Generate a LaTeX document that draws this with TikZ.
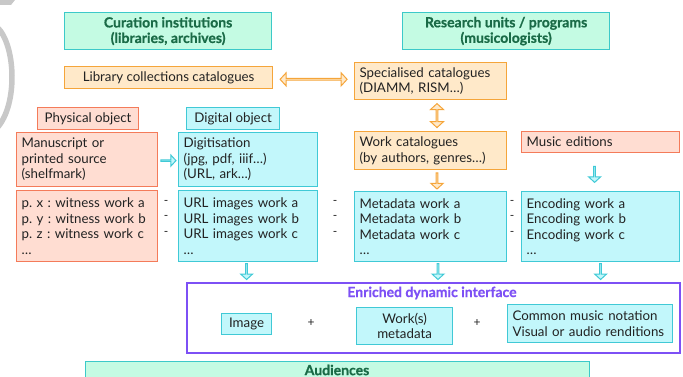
\documentclass[tikz,border=0pt]{standalone}
\usepackage{fontspec}
\setmainfont{Lato}
\newfontface\titleface{Lato Bold}[FakeBold=0.7]
\frenchspacing
\usetikzlibrary{shapes.arrows,calc}
\definecolor{mintF}{HTML}{C4FBE3}
\definecolor{tealB}{HTML}{3CC9C9}
\definecolor{titleG}{HTML}{1A6B47}
\definecolor{orF}{HTML}{FFE9C9}
\definecolor{orB}{HTML}{F5A53A}
\definecolor{pkF}{HTML}{FFDDD2}
\definecolor{pkB}{HTML}{F47B5A}
\definecolor{cyF}{HTML}{C2F7FB}
\definecolor{cyB}{HTML}{40C9D6}
\definecolor{purp}{HTML}{7D50F5}
\definecolor{txt}{HTML}{222222}
\definecolor{arcG}{HTML}{C8C8C8}
\tikzset{
  base/.style={draw, line width=1.2pt, inner sep=0pt, anchor=north west, text=txt,
    font=\fontsize{13.3}{15.5}\selectfont},
  titletxt/.style={font=\titleface\fontsize{14}{15.5}\selectfont},
  mintbox/.style={base, draw=tealB, fill=mintF, align=center, text=titleG, titletxt},
  orbox/.style={base, draw=orB, fill=orF},
  pkbox/.style={base, draw=pkB, fill=pkF},
  cybox/.style={base, draw=cyB, fill=cyF},
  lft/.style={align=left, inner xsep=5pt},
  ctr/.style={align=center},
  downarr/.style={single arrow, draw, line width=1pt, rotate=-90, minimum height=16pt,
    minimum width=12pt, single arrow head extend=3pt, inner sep=0pt, single arrow tip angle=95},
  rightarr/.style={single arrow, draw=cyB, fill=cyF, line width=1pt, minimum height=15pt,
    minimum width=11pt, single arrow head extend=3pt, inner sep=0pt, single arrow tip angle=95},
  dblarr/.style={double arrow, draw=orB, fill=orF, line width=1pt, minimum width=13pt,
    double arrow head extend=3.2pt, inner sep=0pt, double arrow tip angle=95},
  dashtxt/.style={text=txt, font=\fontsize{12}{15}\selectfont, inner sep=0pt},
}
\begin{document}
\begin{tikzpicture}[x=1pt,y=-1pt]
\useasboundingbox (0,0) rectangle (683,377);
% grey fragment at top left
\fill[arcG] (0,0) -- (15,0) -- (11,5) -- (0,5) -- cycle;
\draw[arcG, line width=5.5pt] (-3,27) .. controls (16,45) and (18,105) .. (-3,128);

\node[mintbox, minimum width=207, minimum height=37] (cur) at (64,12) {Curation institutions\\(libraries, archives)};
\node[mintbox, minimum width=207, minimum height=37] (res) at (402,12) {Research units / programs\\(musicologists)};

\node[orbox, ctr, minimum width=208, minimum height=22] (lib) at (64,66) {Library collections catalogues};
\node[orbox, lft, text width=142, minimum width=152, minimum height=37] (spec) at (354,62) {Specialised catalogues\\(DIAMM, RISM\dots)};

\node[pkbox, ctr, minimum width=101, minimum height=22] (phys) at (37,107) {Physical object};
\node[cybox, ctr, minimum width=93, minimum height=22] (dig) at (186,107) {Digital object};

\node[pkbox, lft, text width=131, minimum width=141, minimum height=54] (manu) at (16,132) {Manuscript or\\printed source\\(shelfmark)};
\node[cybox, lft, text width=129, minimum width=139, minimum height=54] (digit) at (178,132) {Digitisation\\(jpg, pdf, iiif\dots)\\(URL, ark\dots)};

\node[pkbox, lft, text width=131, minimum width=141, minimum height=71] (wit) at (16,190) {p. x : witness work a\\p. y : witness work b\\p. z : witness work c\\\dots};
\node[cybox, lft, text width=129, minimum width=139, minimum height=71] (url) at (178,190) {URL images work a\\URL images work b\\URL images work c\\\dots};

\node[orbox, lft, text width=142, minimum width=152, minimum height=38] (workcat) at (354,131) {Work catalogues\\(by authors, genres\dots)};
\node[pkbox, lft, text width=148, minimum width=158, minimum height=21] (edit) at (521,131) {Music editions};

\node[cybox, lft, text width=142, minimum width=152, minimum height=70] (meta) at (354,191) {Metadata work a\\Metadata work b\\Metadata work c\\\dots};
\node[cybox, lft, text width=148, minimum width=158, minimum height=70] (enc) at (521,191) {Encoding work a\\Encoding work b\\Encoding work c\\\dots};

\node[draw=purp, line width=2pt, fill=white, anchor=north west, minimum width=493, minimum height=70, inner sep=0pt] (iface) at (186,282) {};
\node[text=purp, titletxt, inner sep=0pt] (ititle) at (432,293) {Enriched dynamic interface};
\node[cybox, ctr, minimum width=50, minimum height=21] (img) at (221,313) {Image};
\node[cybox, ctr, minimum width=96, minimum height=37] (wmeta) at (356,307) {Work(s)\\metadata};
\node[cybox, lft, text width=155, minimum width=165, minimum height=38] (cmn) at (507,304) {Common music notation\\Visual or audio renditions};
\node[dashtxt] (plus1) at (311,323) {+};
\node[dashtxt] (plus2) at (477,323) {+};

\node[mintbox, minimum width=504, minimum height=34, anchor=north west] (aud) at (85,361) {};
\node[text=titleG, titletxt, inner sep=0pt] (audt) at (337,370) {Audiences};

% arrows
\node[dblarr, minimum height=67pt] (h1) at ($(lib.east)!0.5!(spec.west)+(0,0)$) {};
\node[dblarr, minimum height=24pt, rotate=90] (v1) at ($(spec.south west)!0.5!(workcat.north west)+(83,0)$) {};
\node[rightarr] (r1) at ($(manu.east)!0.5!(digit.east -| digit.west)+(0,1)$) {};
\node[downarr, draw=orB, fill=orF] (d1) at ($(workcat.south west)!0.5!(meta.north west)+(83,0)$) {};
\node[downarr, draw=cyB, fill=cyF] (d2) at ($(edit.south)!0.55!(enc.north)+(-6,0)$) {};
\node[downarr, draw=cyB, fill=cyF] (d3) at ($(url.south)!0.45!(url.south |- iface.north)+(-1.5,0)$) {};
\node[downarr, draw=cyB, fill=cyF] (d4) at ($(meta.south west)!0.45!(meta.south west |- iface.north)+(84,0)$) {};
\node[downarr, draw=cyB, fill=cyF] (d5) at ($(enc.south)!0.45!(enc.south |- iface.north)+(0,0)$) {};

% dashes
\foreach \yy/\nm in {202/a,217/b,233/c}{
  \node[dashtxt] (da\nm) at (166,\yy) {-};
  \node[dashtxt] (db\nm) at (335,\yy) {-};
  \node[dashtxt] (dc\nm) at (512,\yy) {-};
}
\end{tikzpicture}
\end{document}
